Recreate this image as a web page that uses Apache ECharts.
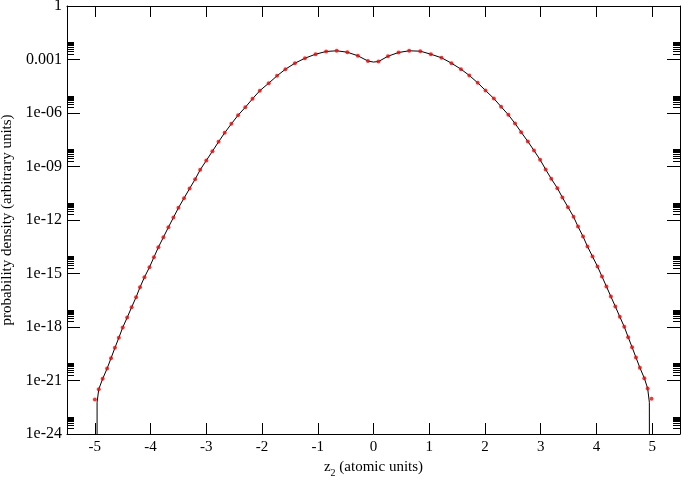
<!DOCTYPE html>
<html>
<head>
<meta charset="utf-8">
<script src="https://cdn.jsdelivr.net/npm/echarts@6/dist/echarts.min.js"></script>
<style>html,body{margin:0;padding:0;background:#fff}#c{width:682px;height:480px}#err{position:absolute;left:100px;top:100px;font:12px monospace;color:#00f;white-space:pre-wrap;width:560px}</style>
</head>
<body>
<div id="c"></div>
<div id="err"></div>
<script>
// Sampled points (red dots): z2 and probability density
const zDots = [
  -5.00, -4.93, -4.86, -4.78, -4.71, -4.64, -4.57, -4.50, -4.42, -4.34,
  -4.26, -4.19, -4.11, -4.02, -3.94, -3.86, -3.77, -3.68, -3.59, -3.50,
  -3.40, -3.30, -3.20, -3.11, -3.00, -2.89, -2.78, -2.67, -2.55, -2.43,
  -2.30, -2.17, -2.04, -1.88, -1.73, -1.58, -1.41, -1.23, -1.04, -0.85,
  -0.66, -0.47, -0.28, -0.10,
   0.09,  0.26,  0.45,  0.64,  0.84,  1.03,  1.22,  1.40,  1.57,  1.72,
   1.87,  2.01,  2.16,  2.29,  2.42,  2.54,  2.65,  2.77,  2.88,  2.99,
   3.09,  3.19,  3.30,  3.39,  3.49,  3.59,  3.67,  3.76,  3.84,  3.93,
   4.02,  4.10,  4.18,  4.26,  4.34,  4.42,  4.50,  4.57,  4.64,  4.71,
   4.78,  4.86,  4.92,  4.99
];
const pDots = [
  8.6e-23, 3.25e-22, 1.24e-21, 4.7e-21, 1.78e-20, 6.8e-20, 2.48e-19, 9.4e-19, 3.4e-18, 1.29e-17,
  4.7e-17, 1.70e-16, 6.2e-16, 2.25e-15, 8.2e-15, 2.98e-14, 1.08e-13, 3.95e-13, 1.38e-12, 4.8e-12,
  1.67e-11, 5.8e-11, 1.94e-10, 6.5e-10, 2.17e-9, 7.2e-9, 2.43e-8, 7.8e-8, 2.48e-7, 7.5e-7,
  2.09e-6, 6.3e-6, 1.78e-5, 4.7e-5, 1.22e-4, 2.86e-4, 6.2e-4, 1.18e-3, 1.98e-3, 2.81e-3,
  3.08e-3, 2.57e-3, 1.61e-3, 8.2e-4,
  7.7e-4, 1.53e-3, 2.47e-3, 3.08e-3, 2.92e-3, 1.98e-3, 1.25e-3, 6.2e-4, 2.86e-4, 1.27e-4,
  4.9e-5, 1.83e-5, 6.5e-6, 2.25e-6, 7.9e-7, 2.58e-7, 8.4e-8, 2.52e-8, 7.9e-9, 2.38e-9,
  6.8e-10, 2.04e-10, 6.1e-11, 1.82e-11, 5.2e-12, 1.51e-12, 4.3e-13, 1.19e-13, 3.27e-14, 8.97e-15,
  2.47e-15, 6.8e-16, 1.87e-16, 5.1e-17, 1.41e-17, 3.73e-18, 1.03e-18, 2.68e-19, 7.4e-20, 1.95e-20,
  5.2e-21, 1.35e-21, 3.56e-22, 9.4e-23
];
// Continuous curve: extra points where it differs from the dots
const zCurveLeftEnd = [-4.962, -4.960, -4.960];
const pCurveLeftEnd = [1e-30, 1e-24, 6e-23];
const zCurveCenter = [0.00];
const pCurveCenter = [7.2e-4];
const zCurveRightEnd = [4.950, 4.951, 4.952];
const pCurveRightEnd = [6e-23, 1e-24, 1e-30];

// Axis ticks / labels
const xTicks = [-5, -4, -3, -2, -1, 0, 1, 2, 3, 4, 5];
const xTickLabels = ['-5', '-4', '-3', '-2', '-1', '0', '1', '2', '3', '4', '5'];
const yExponents = [-24, -21, -18, -15, -12, -9, -6, -3, 0];
const yTickLabels = ['1e-24', '1e-21', '1e-18', '1e-15', '1e-12', '1e-09', '1e-06', '0.001', '1'];
const minorMultipliers = [2, 3, 4, 5, 6, 7, 8, 9];

const dotsData = zDots.map((z, i) => [z, pDots[i]]);
const leftIdx = zDots.findIndex(z => z > 0);
const curveData = []
  .concat(zCurveLeftEnd.map((z, i) => [z, pCurveLeftEnd[i]]))
  .concat(dotsData.slice(1, leftIdx))
  .concat(zCurveCenter.map((z, i) => [z, pCurveCenter[i]]))
  .concat(dotsData.slice(leftIdx, dotsData.length - 1))
  .concat(zCurveRightEnd.map((z, i) => [z, pCurveRightEnd[i]]));

const minorLog = [];
yExponents.slice(0, -1).forEach(e => minorMultipliers.forEach(k => minorLog.push(e + Math.log10(k))));
const majorLog = yExponents.slice();

const FONT = 'Liberation Serif';
const TC = '#000';

function tickAxisY(pos, vals, len, showLine) {
  return {
    type: 'value', position: pos, min: -24, max: 0,
    axisLine: { show: !!showLine, onZero: false, lineStyle: { color: TC, width: 1 } },
    splitLine: { show: false },
    axisLabel: { show: false },
    axisTick: { show: true, inside: true, length: len, customValues: vals, lineStyle: { color: TC, width: 1 } }
  };
}

try {
const chart = echarts.init(document.getElementById('c'), null, { renderer: 'canvas' });
chart.setOption({
  animation: false,
  backgroundColor: '#fff',
  grid: { left: 67, right: 2, top: 6, bottom: 46, containLabel: false, outerBoundsMode: 'none', show: false },
  xAxis: [
    {
      type: 'value', position: 'bottom', min: -5.5, max: 5.5,
      name: 'z{s|2} (atomic units)', nameLocation: 'middle', nameGap: 22,
      nameTextStyle: { fontFamily: FONT, fontSize: 15, color: TC,
        rich: { s: { fontFamily: FONT, fontSize: 10, color: TC, verticalAlign: 'bottom', lineHeight: 21 } } },
      axisLine: { show: true, onZero: false, lineStyle: { color: TC, width: 1 } },
      splitLine: { show: false },
      axisTick: { show: true, inside: true, length: 11, customValues: xTicks, lineStyle: { color: TC, width: 1 } },
      axisLabel: { show: true, margin: 6, customValues: xTicks, fontFamily: FONT, fontSize: 15, color: TC,
        formatter: v => xTickLabels[xTicks.findIndex(t => Math.abs(t - v) < 1e-9)] }
    },
    {
      type: 'value', position: 'top', min: -5.5, max: 5.5,
      axisLine: { show: true, onZero: false, lineStyle: { color: TC, width: 1 } },
      splitLine: { show: false },
      axisTick: { show: true, inside: true, length: 11, customValues: xTicks, lineStyle: { color: TC, width: 1 } },
      axisLabel: { show: false }
    }
  ],
  yAxis: [
    {
      type: 'log', logBase: 10, position: 'left', min: 1e-24, max: 1,
      name: 'probability density (arbitrary units)', nameLocation: 'middle', nameGap: 52,
      nameTextStyle: { fontFamily: FONT, fontSize: 15, color: TC },
      axisLine: { show: true, onZero: false, lineStyle: { color: TC, width: 1 } },
      splitLine: { show: false },
      axisTick: { show: false },
      axisLabel: { show: false }
    },
    tickAxisY('left', minorLog, 7, false),
    tickAxisY('right', majorLog, 13, true),
    tickAxisY('right', minorLog, 7, false),
    Object.assign(tickAxisY('left', majorLog, 13, false), {
      axisLabel: { show: true, margin: 5, customValues: majorLog, fontFamily: FONT, fontSize: 16, color: TC,
        formatter: v => {
          const i = yExponents.findIndex(e => Math.abs(e - v) < 1e-6);
          return i >= 0 ? yTickLabels[i] : '';
        } }
    })
  ],
  series: [
    {
      type: 'line', xAxisIndex: 0, yAxisIndex: 0, data: curveData,
      showSymbol: false, symbol: 'none', clip: true, smooth: false,
      lineStyle: { color: '#000', width: 1 }, z: 2
    },
    {
      type: 'scatter', xAxisIndex: 0, yAxisIndex: 0, data: dotsData,
      symbol: 'circle', symbolSize: 4, clip: true,
      itemStyle: { color: '#ff0000' }, z: 3
    }
  ]
});
} catch (e) {
  document.getElementById('err').textContent = String(e && e.stack || e);
}
</script>
</body>
</html>
